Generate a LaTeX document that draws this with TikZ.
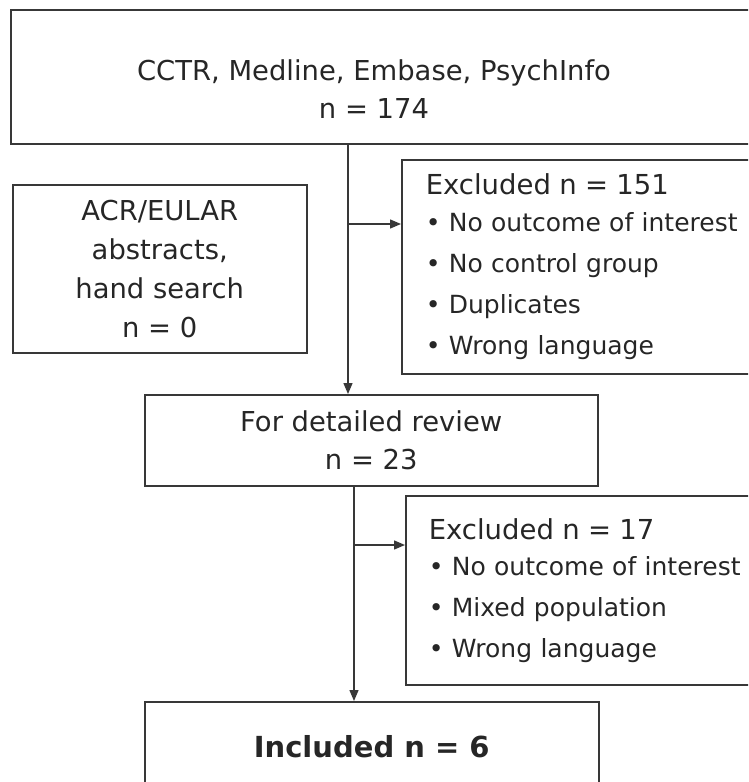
\documentclass[tikz,border=0pt]{standalone}
\usepackage{fontspec}
\setmainfont{DejaVu Sans}
\usetikzlibrary{arrows.meta}
\definecolor{ink}{gray}{0.15}
\definecolor{edge}{gray}{0.22}

\begin{document}
\begin{tikzpicture}[x=1pt,y=-1pt,
    box/.style={draw=edge, line width=1.5pt, text=ink, inner sep=0pt, anchor=north west},
    note/.style={box, align=left, font=\fontsize{25}{41}\selectfont},
    arr/.style={draw=edge, line width=1.4pt, -{Triangle[length=11pt,width=9pt]}}]
  \useasboundingbox (0,0) rectangle (748,782);
  \clip (0,0) rectangle (748,782);
  % boxes
  \node[box, minimum width=760pt, minimum height=134pt] (search) at (10,9) {};
  \node[text=ink, align=center, font=\fontsize{27.4}{38}\selectfont] (searchtxt) at (374,89) {CCTR, Medline, Embase, PsychInfo\\n = 174};
  \node[box, minimum width=294pt, minimum height=168pt, align=center, font=\fontsize{27.4}{39}\selectfont] (hand) at (12,184) {ACR/EULAR\\abstracts,\\hand search\\n = 0};
  \node[note, minimum height=214pt, text width=322pt, inner xsep=24pt] (excl1) at (401,159) {{\fontsize{27.5}{36}\selectfont Excluded n = 151}\\[-4pt]• No outcome of interest\\• No control group\\• Duplicates\\• Wrong language};
  \node[box, minimum width=453pt, minimum height=91pt, align=center, font=\fontsize{27.4}{38}\selectfont] (review) at (144,394) {For detailed review\\n = 23};
  \node[note, minimum height=189pt, text width=324pt, inner xsep=23pt] (excl2) at (405,495) {{\fontsize{27.5}{36}\selectfont Excluded n = 17}\\[-5pt]• No outcome of interest\\• Mixed population\\• Wrong language};
  \node[box, minimum width=454pt, minimum height=90pt, font=\bfseries\fontsize{29}{34}\selectfont] (incl) at (144,701) {Included n = 6};
  % connectors
  \coordinate (t1) at (348,0);
  \coordinate (t2) at (354,0);
  \coordinate (b1) at (348,224);
  \coordinate (b2) at (354,545);
  \draw[arr] (search.south -| t1) -- (review.north -| t1);
  \draw[arr] (b1) -- (b1 -| excl1.west);
  \draw[arr] (review.south -| t2) -- (incl.north -| t2);
  \draw[arr] (b2) -- (b2 -| excl2.west);
\end{tikzpicture}
\end{document}
